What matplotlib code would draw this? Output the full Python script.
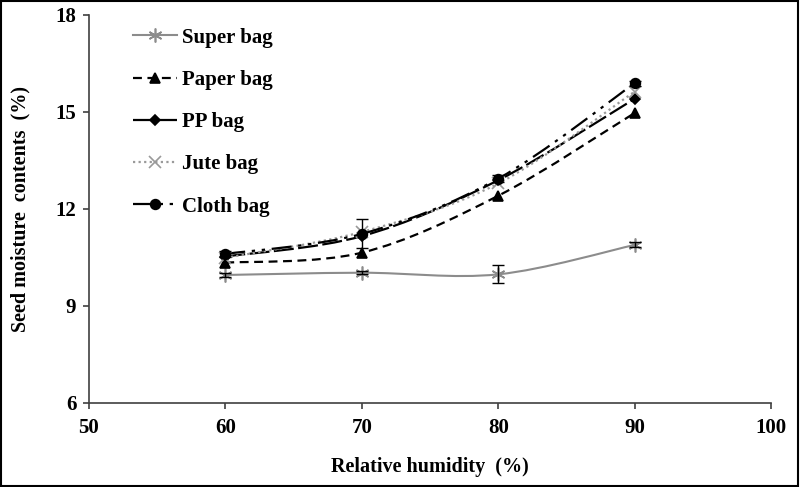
import matplotlib.pyplot as plt
from matplotlib.path import Path
from matplotlib.patches import PathPatch, Rectangle
from matplotlib.lines import Line2D

plt.rcParams['font.family'] = ['Liberation Serif', 'DejaVu Serif']
plt.rcParams['font.weight'] = 'bold'

# data
humidity = [60, 70, 80, 90]
super_bag = [9.95, 10.02, 9.97, 10.88]
paper_bag = [10.33, 10.64, 12.40, 14.96]
pp_bag = [10.52, 11.15, 12.88, 15.40]
jute_bag = [10.48, 11.28, 12.78, 15.62]
cloth_bag = [10.60, 11.22, 12.93, 15.88]
super_err = [0.05, 0.05, 0.28, 0.08]
cloth_err = [0.08, 0.45, 0.10, 0.08]

series_names = ['Super bag', 'Paper bag', 'PP bag', 'Jute bag', 'Cloth bag']
x_ticks = [50, 60, 70, 80, 90, 100]
y_ticks = [6, 9, 12, 15, 18]


def smooth_path(xs, ys):
    # excel-like smoothed line: cubic bezier through the points
    pts = list(zip(xs, ys))
    verts = [pts[0]]
    codes = [Path.MOVETO]
    n = len(pts)
    for i in range(n - 1):
        p0 = pts[i - 1] if i > 0 else pts[i]
        p1 = pts[i]
        p2 = pts[i + 1]
        p3 = pts[i + 2] if i + 2 < n else pts[i + 1]
        c1 = (p1[0] + (p2[0] - p0[0]) / 6, p1[1] + (p2[1] - p0[1]) / 6)
        c2 = (p2[0] - (p3[0] - p1[0]) / 6, p2[1] - (p3[1] - p1[1]) / 6)
        verts += [c1, c2, p2]
        codes += [Path.CURVE4] * 3
    return Path(verts, codes)


styles = [
    dict(color='#8c8c8c', ls='-', lw=1.5, marker=(6, 2, 0), ms=10, mfc='none', mec='#8c8c8c'),
    dict(color='black', ls=(0, (4, 2.5)), lw=1.6, marker='^', ms=7, mfc='black', mec='black'),
    dict(color='black', ls=(0, (9, 2)), lw=1.6, marker='D', ms=5.5, mfc='black', mec='black'),
    dict(color='#9a9a9a', ls=(0, (1, 1.5)), lw=1.6, marker='x', ms=9, mfc='none', mec='#9a9a9a'),
    dict(color='black', ls=(0, (9, 3, 1.5, 3, 1.5, 3)), lw=1.6, marker='o', ms=7, mfc='black', mec='black'),
]
all_series = [super_bag, paper_bag, pp_bag, jute_bag, cloth_bag]

fig = plt.figure(figsize=(8, 4.87), dpi=100)
ax = fig.add_axes([0.111, 0.173, 0.853, 0.797])

handles = []
for ys, st, name in zip(all_series, styles, series_names):
    patch = PathPatch(smooth_path(humidity, ys), fill=False, edgecolor=st['color'],
                      lw=st['lw'], linestyle=st['ls'], zorder=2)
    ax.add_patch(patch)
    ax.plot(humidity, ys, ls='none', marker=st['marker'], ms=st['ms'],
            mfc=st['mfc'], mec=st['mec'], mew=1.2, zorder=3)
    handles.append(Line2D([], [], color=st['color'], ls=st['ls'], lw=st['lw'],
                          marker=st['marker'], ms=st['ms'], mfc=st['mfc'],
                          mec=st['mec'], mew=1.2))

ax.errorbar(humidity, super_bag, yerr=super_err, fmt='none', ecolor='black',
            elinewidth=1, capsize=4, zorder=4)
ax.errorbar(humidity, cloth_bag, yerr=cloth_err, fmt='none', ecolor='black',
            elinewidth=1, capsize=4, zorder=4)

ax.set_xlim(50, 100)
ax.set_ylim(6, 18)
ax.set_xticks(x_ticks)
ax.set_yticks(y_ticks)
ax.spines['top'].set_visible(False)
ax.spines['right'].set_visible(False)
for s in ['left', 'bottom']:
    ax.spines[s].set_color('#404040')
    ax.spines[s].set_linewidth(1.2)
ax.tick_params(axis='both', direction='out', length=4, width=1.2,
               color='#404040', labelsize=15)
ax.tick_params(axis='x', pad=7)
ax.tick_params(axis='y', pad=5)

ax.set_xlabel('Relative humidity  (%)', fontsize=14.5, fontweight='bold', labelpad=14)
ax.set_ylabel('Seed moisture  contents  (%)', fontsize=14.5, fontweight='bold', labelpad=18)

leg = ax.legend(handles, series_names, loc='upper left', bbox_to_anchor=(0.038, 1.015),
                frameon=False, fontsize=15, handlelength=2.1, labelspacing=1.07,
                handletextpad=0.25)

fig.add_artist(Rectangle((0.001, 0.002), 0.997, 0.996, transform=fig.transFigure,
                         fill=False, edgecolor='black', lw=1.5))

fig.savefig('out.png', dpi=100)
